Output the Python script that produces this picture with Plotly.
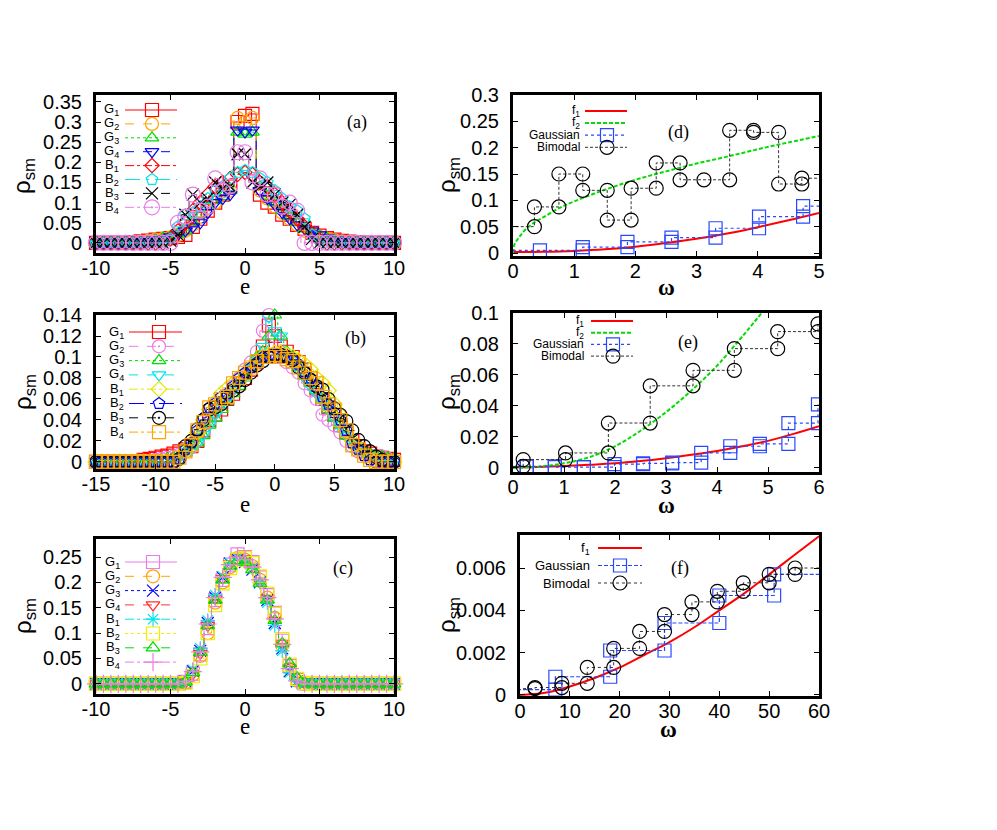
import plotly.graph_objects as go

# the page keeps the browser's 8px body margin, so the figure is drawn
# inside it and every pixel position below is given in page pixels
OFF = 8
W, H = 997 - 2 * OFF, 830 - 2 * OFF

# ---------------- panel (a) ----------------
e_a = [-10.0, -9.5, -9.0, -8.5, -8.0, -7.5, -7.0, -6.5, -6.0, -5.5,
       -5.0, -4.5, -4.0, -3.5, -3.0, -2.5, -2.0, -1.5, -1.0, -0.5,
       0.0, 0.5, 1.0, 1.5, 2.0, 2.5, 3.0, 3.5, 4.0, 4.5,
       5.0, 5.5, 6.0, 6.5, 7.0, 7.5, 8.0, 8.5, 9.0, 9.5,
       10.0]
a_G1 = [0, 0, 0, 0, 0, 0.002, 0.004, 0.006, 0.008, 0.01,
        0.012, 0.015, 0.02, 0.04, 0.06, 0.08, 0.1, 0.12, 0.14, 0.3,
        0.315, 0.32, 0.12, 0.1, 0.09, 0.07, 0.06, 0.045, 0.035, 0.025,
        0.018, 0.012, 0.008, 0.005, 0.003, 0.002, 0, 0, 0, 0,
        0]
a_G2 = [0, 0, 0, 0, 0, 0.002, 0.003, 0.005, 0.008, 0.01,
        0.014, 0.02, 0.03, 0.045, 0.065, 0.085, 0.1, 0.12, 0.13, 0.31,
        0.3, 0.31, 0.13, 0.11, 0.09, 0.075, 0.06, 0.045, 0.03, 0.022,
        0.015, 0.01, 0.007, 0.004, 0.003, 0.002, 0, 0, 0, 0,
        0]
a_G3 = [0, 0, 0, 0, 0, 0.001, 0.003, 0.005, 0.008, 0.012,
        0.016, 0.022, 0.03, 0.05, 0.07, 0.09, 0.105, 0.115, 0.13, 0.275,
        0.27, 0.275, 0.14, 0.115, 0.1, 0.08, 0.065, 0.05, 0.035, 0.025,
        0.018, 0.012, 0.008, 0.005, 0.003, 0.001, 0, 0, 0, 0,
        0]
a_G4 = [0, 0, 0, 0, 0, 0.001, 0.002, 0.004, 0.007, 0.01,
        0.015, 0.02, 0.03, 0.04, 0.05, 0.075, 0.1, 0.11, 0.12, 0.28,
        0.275, 0.28, 0.13, 0.11, 0.095, 0.075, 0.06, 0.045, 0.035, 0.03,
        0.02, 0.012, 0.007, 0.004, 0.002, 0.001, 0, 0, 0, 0,
        0]
a_B1 = [0, 0, 0, 0, 0, 0, 0, 0, 0, 0,
        0.01, 0.03, 0.05, 0.08, 0.1, 0.12, 0.14, 0.15, 0.16, 0.17,
        0.175, 0.17, 0.15, 0.14, 0.12, 0.1, 0.08, 0.06, 0.04, 0.02,
        0.008, 0, 0, 0, 0, 0, 0, 0, 0, 0,
        0]
a_B2 = [0, 0, 0, 0, 0, 0, 0, 0, 0, 0,
        0.01, 0.04, 0.07, 0.075, 0.09, 0.11, 0.13, 0.14, 0.16, 0.175,
        0.18, 0.175, 0.16, 0.15, 0.13, 0.11, 0.09, 0.08, 0.06, 0.02,
        0.005, 0, 0, 0, 0, 0, 0, 0, 0, 0,
        0]
a_B3 = [0, 0, 0, 0, 0, 0, 0, 0, 0, 0,
        0.005, 0.02, 0.07, 0.12, 0.1, 0.11, 0.15, 0.135, 0.14, 0.22,
        0.22, 0.15, 0.14, 0.15, 0.12, 0.1, 0.095, 0.07, 0.04, 0.01,
        0, 0, 0, 0, 0, 0, 0, 0, 0, 0,
        0]
a_B4 = [0, 0, 0, 0, 0, 0, 0, 0, 0, 0,
        0, 0.05, 0.065, 0.12, 0.08, 0.09, 0.16, 0.13, 0.14, 0.225,
        0.225, 0.15, 0.16, 0.12, 0.12, 0.09, 0.1, 0.08, 0, 0,
        0, 0, 0, 0, 0, 0, 0, 0, 0, 0,
        0]

# ---------------- panel (b) ----------------
e_b = [-15.0, -14.5, -14.0, -13.5, -13.0, -12.5, -12.0, -11.5, -11.0, -10.5,
       -10.0, -9.5, -9.0, -8.5, -8.0, -7.5, -7.0, -6.5, -6.0, -5.5,
       -5.0, -4.5, -4.0, -3.5, -3.0, -2.5, -2.0, -1.5, -1.0, -0.5,
       0.0, 0.5, 1.0, 1.5, 2.0, 2.5, 3.0, 3.5, 4.0, 4.5,
       5.0, 5.5, 6.0, 6.5, 7.0, 7.5, 8.0, 8.5, 9.0, 9.5,
       10.0]
b_G1 = [0, 0, 0, 0, 0, 0, 0, 0, 0.002, 0.003,
        0.004, 0.005, 0.006, 0.008, 0.01, 0.012, 0.015, 0.02, 0.03, 0.04,
        0.045, 0.05, 0.06, 0.065, 0.075, 0.08, 0.088, 0.095, 0.11, 0.13,
        0.12, 0.11, 0.105, 0.1, 0.095, 0.088, 0.08, 0.07, 0.06, 0.052,
        0.045, 0.035, 0.028, 0.02, 0.015, 0.01, 0.008, 0.005, 0.004, 0.003,
        0.002]
b_G2 = [0, 0, 0, 0, 0, 0, 0, 0, 0, 0.001,
        0.002, 0.003, 0.004, 0.005, 0.007, 0.01, 0.014, 0.02, 0.028, 0.038,
        0.048, 0.055, 0.065, 0.072, 0.08, 0.088, 0.095, 0.105, 0.125, 0.14,
        0.12, 0.1, 0.095, 0.09, 0.085, 0.075, 0.068, 0.06, 0.045, 0.04,
        0.035, 0.028, 0.02, 0.015, 0.01, 0.008, 0.006, 0.005, 0.005, 0.003,
        0.001]
b_G3 = [0, 0, 0, 0, 0, 0, 0, 0, 0, 0,
        0.001, 0.002, 0.003, 0.004, 0.006, 0.01, 0.015, 0.018, 0.025, 0.035,
        0.042, 0.05, 0.058, 0.065, 0.072, 0.08, 0.09, 0.1, 0.105, 0.12,
        0.14, 0.12, 0.105, 0.1, 0.09, 0.082, 0.075, 0.068, 0.06, 0.05,
        0.042, 0.035, 0.025, 0.02, 0.015, 0.01, 0.008, 0.006, 0.005, 0.004,
        0.003]
b_G4 = [0, 0, 0, 0, 0, 0, 0, 0, 0, 0,
        0, 0.001, 0.002, 0.003, 0.005, 0.008, 0.012, 0.018, 0.026, 0.035,
        0.045, 0.052, 0.06, 0.068, 0.075, 0.082, 0.09, 0.098, 0.11, 0.138,
        0.125, 0.12, 0.1, 0.095, 0.088, 0.08, 0.072, 0.065, 0.058, 0.05,
        0.042, 0.033, 0.025, 0.018, 0.012, 0.008, 0.006, 0.004, 0.003, 0.002,
        0.001]
b_B1 = [0, 0, 0, 0, 0, 0, 0, 0, 0, 0,
        0, 0, 0, 0, 0.004, 0.01, 0.018, 0.028, 0.04, 0.05,
        0.057, 0.065, 0.07, 0.075, 0.08, 0.085, 0.09, 0.095, 0.1, 0.102,
        0.104, 0.104, 0.102, 0.1, 0.097, 0.093, 0.088, 0.08, 0.075, 0.068,
        0.055, 0.045, 0.03, 0.02, 0.012, 0.006, 0.003, 0.001, 0, 0,
        0]
b_B2 = [0, 0, 0, 0, 0, 0, 0, 0, 0, 0,
        0, 0, 0, 0, 0.003, 0.012, 0.018, 0.03, 0.042, 0.052,
        0.056, 0.062, 0.065, 0.072, 0.08, 0.085, 0.09, 0.095, 0.1, 0.101,
        0.102, 0.1, 0.1, 0.097, 0.093, 0.086, 0.08, 0.072, 0.062, 0.055,
        0.047, 0.04, 0.03, 0.018, 0.012, 0.006, 0.002, 0, 0, 0,
        0]
b_B3 = [0, 0, 0, 0, 0, 0, 0, 0, 0, 0,
        0, 0, 0, 0, 0.003, 0.015, 0.02, 0.031, 0.04, 0.05,
        0.052, 0.055, 0.061, 0.068, 0.072, 0.078, 0.085, 0.092, 0.096, 0.1,
        0.102, 0.102, 0.1, 0.097, 0.09, 0.085, 0.078, 0.072, 0.069, 0.06,
        0.051, 0.045, 0.039, 0.03, 0.021, 0.015, 0.01, 0.005, 0.002, 0,
        0]
b_B4 = [0, 0, 0, 0, 0, 0, 0, 0, 0, 0,
        0, 0, 0, 0, 0.004, 0.01, 0.016, 0.03, 0.038, 0.052,
        0.055, 0.06, 0.062, 0.075, 0.08, 0.085, 0.09, 0.096, 0.1, 0.1,
        0.102, 0.1, 0.098, 0.096, 0.09, 0.085, 0.08, 0.075, 0.062, 0.055,
        0.05, 0.04, 0.03, 0.016, 0.012, 0.006, 0.002, 0, 0, 0,
        0]

# ---------------- panel (c) ----------------
e_c = e_a
c_G1 = [0, 0, 0, 0, 0, 0, 0, 0, 0, 0,
        0, 0, 0.004, 0.02, 0.058, 0.11, 0.165, 0.205, 0.235, 0.255,
        0.25, 0.24, 0.21, 0.175, 0.14, 0.085, 0.035, 0.008, 0.001, 0,
        0, 0, 0, 0, 0, 0, 0, 0, 0, 0,
        0]
c_G2 = [0, 0, 0, 0, 0, 0, 0, 0, 0, 0,
        0, 0, 0.003, 0.018, 0.055, 0.1, 0.16, 0.2, 0.23, 0.248,
        0.245, 0.232, 0.205, 0.17, 0.13, 0.075, 0.03, 0.006, 0, 0,
        0, 0, 0, 0, 0, 0, 0, 0, 0, 0,
        0]
c_G3 = [0, 0, 0, 0, 0, 0, 0, 0, 0, 0,
        0, 0, 0.005, 0.025, 0.065, 0.12, 0.17, 0.21, 0.237, 0.245,
        0.24, 0.225, 0.2, 0.165, 0.12, 0.07, 0.025, 0.005, 0, 0,
        0, 0, 0, 0, 0, 0, 0, 0, 0, 0,
        0]
c_G4 = [0, 0, 0, 0, 0, 0, 0, 0, 0, 0,
        0, 0, 0.003, 0.02, 0.06, 0.115, 0.168, 0.208, 0.236, 0.25,
        0.246, 0.23, 0.2, 0.168, 0.125, 0.08, 0.032, 0.007, 0.001, 0,
        0, 0, 0, 0, 0, 0, 0, 0, 0, 0,
        0]
c_B1 = [0, 0, 0, 0, 0, 0, 0, 0, 0, 0,
        0, 0, 0.006, 0.028, 0.07, 0.125, 0.175, 0.212, 0.238, 0.248,
        0.242, 0.228, 0.2, 0.16, 0.115, 0.065, 0.022, 0.004, 0, 0,
        0, 0, 0, 0, 0, 0, 0, 0, 0, 0,
        0]
c_B2 = [0, 0, 0, 0, 0, 0, 0, 0, 0, 0,
        0, 0, 0.002, 0.015, 0.05, 0.1, 0.155, 0.198, 0.228, 0.245,
        0.248, 0.238, 0.212, 0.178, 0.138, 0.088, 0.038, 0.01, 0.002, 0,
        0, 0, 0, 0, 0, 0, 0, 0, 0, 0,
        0]
c_B3 = [0, 0, 0, 0, 0, 0, 0, 0, 0, 0,
        0, 0, 0.004, 0.022, 0.062, 0.115, 0.165, 0.205, 0.232, 0.243,
        0.24, 0.225, 0.198, 0.165, 0.125, 0.08, 0.04, 0.012, 0.002, 0,
        0, 0, 0, 0, 0, 0, 0, 0, 0, 0,
        0]
c_B4 = [0, 0, 0, 0, 0, 0, 0, 0, 0, 0,
        0, 0, 0.005, 0.024, 0.063, 0.118, 0.17, 0.21, 0.235, 0.25,
        0.245, 0.23, 0.205, 0.17, 0.128, 0.078, 0.03, 0.006, 0.001, 0,
        0, 0, 0, 0, 0, 0, 0, 0, 0, 0,
        0]

# ---------------- panel (d) ----------------
d_f1_w = [0, 0.5, 1, 1.5, 2, 2.5, 3, 3.5, 4, 4.5, 5]
d_f1 = [0.002, 0.0025, 0.004, 0.007, 0.012, 0.019, 0.027, 0.037, 0.049, 0.062, 0.076]
d_f2_w = [0, 0.02, 0.1, 0.2, 0.35, 0.5, 0.75, 1, 1.5, 2, 2.5, 3, 3.5, 4, 4.5, 5]
d_f2 = [0.0, 0.015, 0.03, 0.044, 0.058, 0.068, 0.085, 0.098, 0.12, 0.139,
        0.155, 0.17, 0.183, 0.197, 0.21, 0.222]
d_gau_w = [-0.2, 0.44, 1.14, 1.14, 1.87, 1.87, 2.59, 2.59, 3.31, 3.31,
           4.02, 4.02, 4.74, 4.74, 5.3]
d_gau = [0.005, 0.005, 0.005, 0.011, 0.011, 0.021, 0.021, 0.029, 0.029, 0.047,
         0.047, 0.069, 0.069, 0.089, 0.089]
d_bim_w = [-0.2, 0.35, 0.35, 0.75, 0.75, 1.14, 1.14, 1.54, 1.54, 1.93,
           1.93, 2.34, 2.34, 2.73, 2.73, 3.12, 3.54, 3.54, 3.93, 3.93,
           4.34, 4.34, 4.72, 4.72, 5.3]
d_bim = [0.05, 0.05, 0.0875, 0.0875, 0.15, 0.15, 0.119, 0.119, 0.0625, 0.0625,
         0.123, 0.123, 0.171, 0.171, 0.139, 0.139, 0.139, 0.233, 0.233, 0.229,
         0.229, 0.131, 0.131, 0.142, 0.142]

# ---------------- panel (e) ----------------
e_f1_w = [0, 0.5, 1, 1.5, 2, 2.5, 3, 3.5, 4, 4.5, 5, 5.5, 6]
e_f1 = [0.0005, 0.0007, 0.0012, 0.002, 0.003, 0.0045, 0.0063, 0.0085, 0.011,
        0.014, 0.0175, 0.022, 0.027]
e_f2_w = [0, 0.5, 1, 1.5, 2, 2.5, 3, 3.5, 4, 4.5, 5]
e_f2 = [0.0, 0.0008, 0.003, 0.007, 0.014, 0.024, 0.036, 0.05, 0.066, 0.085, 0.105]
e_gau_w = [-0.2, 0.27, 0.27, 0.82, 0.82, 1.39, 1.39, 1.99, 1.99, 2.55, 2.55,
           3.12, 3.12, 3.69, 3.69, 4.26, 4.26, 4.84, 4.84, 5.4, 5.4, 5.98, 5.98]
e_gau = [0.001, 0.001, 0.001, 0.001, 0.0005, 0.0005, 0.0005, 0.0005, 0.0025,
         0.0025, 0.003, 0.003, 0.0035, 0.0035, 0.0097, 0.0097, 0.014, 0.014,
         0.0155, 0.0155, 0.029, 0.029, 0.041]
e_bim_w = [-0.2, 0.2, 0.2, 1.03, 1.03, 1.87, 1.87, 2.69, 2.69, 3.53, 3.53,
           4.34, 4.34, 5.19, 5.19, 5.98, 5.98]
e_bim = [0.001, 0.001, 0.0054, 0.0054, 0.0097, 0.0097, 0.029, 0.029, 0.053,
         0.053, 0.063, 0.063, 0.077, 0.077, 0.088, 0.088, 0.093]

# ---------------- panel (f) ----------------
f_f1_w = [0, 5, 10, 15, 20, 25, 30, 35, 40, 45, 50, 55, 60]
f_f1 = [0.0, 0.0001, 0.0004, 0.0008, 0.0013, 0.0019, 0.0025, 0.0032, 0.004,
        0.0048, 0.0057, 0.0066, 0.0075]
f_gau_w = [-3, 7.1, 7.1, 18.1, 18.1, 29.0, 29.0, 40.0, 40.0, 51.0, 51.0, 62]
f_gau = [0.00025, 0.00025, 0.00086, 0.00086, 0.0021, 0.0021, 0.0034, 0.0034,
         0.0047, 0.0047, 0.0057, 0.0057]
f_bim_w = [-3, 3.0, 3.0, 8.4, 8.4, 13.5, 13.5, 18.8, 18.8, 24.0, 24.0, 29.0,
           29.0, 34.5, 34.5, 39.6, 39.6, 44.8, 44.8, 50.0, 50.0, 55.2, 55.2, 62]
f_bim = [0.0003, 0.0003, 0.00035, 0.00035, 0.00055, 0.00055, 0.0013, 0.0013,
         0.0022, 0.0022, 0.003, 0.003, 0.0038, 0.0038, 0.0044, 0.0044, 0.0049,
         0.0049, 0.0053, 0.0053, 0.0057, 0.0057, 0.006, 0.006]

G = ["G<sub>1</sub>", "G<sub>2</sub>", "G<sub>3</sub>", "G<sub>4</sub>"]
B = ["B<sub>1</sub>", "B<sub>2</sub>", "B<sub>3</sub>", "B<sub>4</sub>"]

# label, colour, dash, symbol, size
sty_a = [
    (G[0], "#ff0000", "solid", "square-open", 13),
    (G[1], "#ffa500", "dash", "circle-open", 13),
    (G[2], "#00dd00", "dot", "triangle-up-open", 12),
    (G[3], "#0000ff", "dash", "triangle-down-open", 12),
    (B[0], "#ff0000", "dashdot", "diamond-open", 11),
    (B[1], "#00e5ee", "longdashdot", "pentagon-open", 12),
    (B[2], "#000000", "dash", "x-thin-open", 12),
    (B[3], "#e87ee8", "dashdot", "circle-open-dot", 15),
]
sty_b = [
    (G[0], "#ff0000", "solid", "square-open", 13),
    (G[1], "#e87ee8", "dash", "circle-open-dot", 13),
    (G[2], "#00dd00", "dot", "triangle-up-open", 12),
    (G[3], "#00e5ee", "dash", "triangle-down-open", 12),
    (B[0], "#e6e600", "dashdot", "diamond-open", 12),
    (B[1], "#0000ff", "longdashdot", "pentagon-open", 12),
    (B[2], "#000000", "dash", "circle-open-dot", 13),
    (B[3], "#ffa500", "dashdot", "square-open", 13),
]
sty_c = [
    (G[0], "#e87ee8", "solid", "square-open", 13),
    (G[1], "#ffa500", "dash", "circle-open", 13),
    (G[2], "#0000ff", "dot", "x-thin-open", 12),
    (G[3], "#ff3030", "dash", "triangle-down-open", 12),
    (B[0], "#00e5ee", "dashdot", "asterisk-open", 12),
    (B[1], "#eeee00", "dot", "square-open", 13),
    (B[2], "#00dd00", "dash", "triangle-up-open", 12),
    (B[3], "#e87ee8", "dashdot", "cross-thin-open", 13),
]

fig = go.Figure()


def mk_marker(color, symbol, size):
    return dict(symbol=symbol, size=size, color=color,
                line=dict(color=color, width=1.2))


def add_hist(n, x, ys, styles):
    for y, (lab, col, dash, sym, sz) in zip(ys, styles):
        fig.add_trace(go.Scatter(
            x=x, y=y, mode="lines+markers", name=lab,
            line=dict(color=col, dash=dash, width=1, shape="hvh"),
            marker=mk_marker(col, sym, sz),
            cliponaxis=False, showlegend=False,
            xaxis="x%d" % n, yaxis="y%d" % n,
        ))


add_hist(1, e_a, [a_G1, a_G2, a_G3, a_G4, a_B1, a_B2, a_B3, a_B4], sty_a)
add_hist(2, e_b, [b_G1, b_G2, b_G3, b_G4, b_B1, b_B2, b_B3, b_B4], sty_b)
add_hist(3, e_c, [c_G1, c_G2, c_G3, c_G4, c_B1, c_B2, c_B3, c_B4], sty_c)

F1 = dict(color="#ff0000", width=2, shape="spline")
F2 = dict(color="#00dd00", width=2, dash="4px,2px", shape="spline")
GAU_C = "#2848ff"


def add_fit(n, fits, gau, bim, gdash, bdash):
    for (x, y, ln) in fits:
        fig.add_trace(go.Scatter(x=x, y=y, mode="lines", line=ln,
                                 showlegend=False,
                                 xaxis="x%d" % n, yaxis="y%d" % n))
    fig.add_trace(go.Scatter(
        x=gau[0], y=gau[1], mode="lines+markers",
        line=dict(color=GAU_C, width=1.2, dash=gdash),
        marker=mk_marker(GAU_C, "square-open", 13),
        showlegend=False, xaxis="x%d" % n, yaxis="y%d" % n))
    fig.add_trace(go.Scatter(
        x=bim[0], y=bim[1], mode="lines+markers",
        line=dict(color="#333333", width=1, dash=bdash),
        marker=mk_marker("#000000", "circle-open", 14),
        showlegend=False, xaxis="x%d" % n, yaxis="y%d" % n))


add_fit(4, [(d_f1_w, d_f1, F1), (d_f2_w, d_f2, F2)],
        (d_gau_w, d_gau), (d_bim_w, d_bim), "dot", "3px,2px")
add_fit(5, [(e_f1_w, e_f1, F1), (e_f2_w, e_f2, F2)],
        (e_gau_w, e_gau), (e_bim_w, e_bim), "dot", "3px,2px")
add_fit(6, [(f_f1_w, f_f1, F1)],
        (f_gau_w, f_gau), (f_bim_w, f_bim), "4px,2px", "dot")


# page pixel -> paper fraction
def px(x):
    return (x - OFF) / W


def py(y):
    return 1 - (y - OFF) / H


# ---------------- axes ----------------
boxes = {
    1: (96, 95, 394, 253),
    2: (96, 315, 394, 469),
    3: (96, 539, 394, 694),
    4: (513, 95, 819, 256),
    5: (513, 313, 819, 472),
    6: (520, 535, 819, 696),
}
xranges = {1: [-10, 10], 2: [-15, 10], 3: [-10, 10],
           4: [0, 5], 5: [0, 6], 6: [0, 60]}
yranges = {1: [-0.025, 0.367], 2: [-0.0067, 0.14], 3: [-0.02, 0.2855],
           4: [-0.0057, 0.3], 5: [-0.0026, 0.1], 6: [-0.00005, 0.00756]}
xticks = {1: [-10, -5, 0, 5, 10], 2: [-15, -10, -5, 0, 5, 10],
          3: [-10, -5, 0, 5, 10], 4: [0, 1, 2, 3, 4, 5],
          5: [0, 1, 2, 3, 4, 5, 6], 6: [0, 10, 20, 30, 40, 50, 60]}
yticks = {1: [0, 0.05, 0.1, 0.15, 0.2, 0.25, 0.3, 0.35],
          2: [0, 0.02, 0.04, 0.06, 0.08, 0.1, 0.12, 0.14],
          3: [0, 0.05, 0.1, 0.15, 0.2, 0.25],
          4: [0, 0.05, 0.1, 0.15, 0.2, 0.25, 0.3],
          5: [0, 0.02, 0.04, 0.06, 0.08, 0.1],
          6: [0, 0.002, 0.004, 0.006]}

tickfont = dict(family="Liberation Sans, Arial, sans-serif", size=20, color="black")
common = dict(showline=True, linecolor="black", linewidth=3, mirror="ticks",
              ticks="inside", ticklen=5, tickwidth=1, tickcolor="black",
              showgrid=False, zeroline=False, tickfont=tickfont, fixedrange=True,
              automargin=False)

lay = {}
for n, (x0, y0, x1, y1) in boxes.items():
    sfx = "" if n == 1 else str(n)
    lay["xaxis" + sfx] = dict(
        common, domain=[px(x0), px(x1)], range=xranges[n], anchor="y%d" % n,
        tickvals=xticks[n], ticktext=[("%g" % v) for v in xticks[n]],
        ticklabelstandoff=-5)
    lay["yaxis" + sfx] = dict(
        common, domain=[py(y1), py(y0)], range=yranges[n], anchor="x%d" % n,
        tickvals=yticks[n], ticktext=[("%g" % v) for v in yticks[n]],
        ticklabelstandoff=7)

# a pixel canvas on top, used only for the key samples
lay["xaxis7"] = dict(domain=[0, 1], range=[OFF, OFF + W], visible=False, anchor="y7",
                     fixedrange=True, automargin=False)
lay["yaxis7"] = dict(domain=[0, 1], range=[OFF + H, OFF], visible=False, anchor="x7",
                     fixedrange=True, automargin=False)

fig.update_layout(**lay)

# ---------------- keys ----------------
anns = []


def add_key(entries, xt, xl0, xl1, xm, ky0, dy, fsize):
    kfont = dict(family="Liberation Sans, Arial, sans-serif", size=fsize, color="black")
    for i, (lab, line, marker) in enumerate(entries):
        yy = ky0 + i * dy
        fig.add_trace(go.Scatter(x=[xl0, xl1], y=[yy, yy], mode="lines", line=line,
                                 showlegend=False, hoverinfo="skip",
                                 xaxis="x7", yaxis="y7"))
        if marker is not None:
            fig.add_trace(go.Scatter(x=[xm], y=[yy], mode="markers", marker=marker,
                                     showlegend=False, hoverinfo="skip",
                                     xaxis="x7", yaxis="y7"))
        anns.append(dict(x=px(xt), y=py(yy), xref="paper", yref="paper",
                         text=lab, showarrow=False, xanchor="right",
                         yanchor="middle", font=kfont))


def hist_entries(styles):
    return [(lab, dict(color=col, dash=dash, width=1), mk_marker(col, sym, sz))
            for (lab, col, dash, sym, sz) in styles]


add_key(hist_entries(sty_a), 121, 125, 177, 152, 110, 13.9, 13)
add_key(hist_entries(sty_b), 126, 129, 182, 159, 332, 14.3, 13)
add_key(hist_entries(sty_c), 122, 125, 177, 153, 562, 14.3, 13)

f1_key = ("f<sub>1</sub>", dict(color="#ff0000", width=2), None)
f2_key = ("f<sub>2</sub>", dict(color="#00dd00", width=2, dash="4px,2px"), None)


def fit_entries(gdash, bdash, with_f2=True):
    out = [f1_key]
    if with_f2:
        out.append(f2_key)
    out.append(("Gaussian", dict(color=GAU_C, width=1.2, dash=gdash),
                mk_marker(GAU_C, "square-open", 13)))
    out.append(("Bimodal", dict(color="#333333", width=1, dash=bdash),
                mk_marker("#000000", "circle-open", 14)))
    return out


add_key(fit_entries("dot", "3px,2px"), 582, 585, 627, 607, 111, 12.1, 12)
add_key(fit_entries("dot", "3px,2px"), 586, 591, 633, 613, 321, 11.7, 12)
add_key(fit_entries("4px,2px", "dot", with_f2=False), 592, 598, 642, 620, 548, 17.5, 13)

# ---------------- titles and panel tags ----------------
serif = "Liberation Serif, Times New Roman, serif"
ylab = [(24, 176), (24, 392), (24, 616), (448, 175), (448, 392), (448, 615)]
for (xp, yp) in ylab:
    anns.append(dict(x=px(xp), y=py(yp), xref="paper", yref="paper",
                     text="ρ<sub>sm</sub>", textangle=-90, showarrow=False,
                     xanchor="center", yanchor="middle",
                     font=dict(family="Liberation Sans, Arial, sans-serif", size=24, color="black")))

xlab = [("e", 245, 286), ("e", 245, 504), ("e", 245, 726),
        ("<b>ω</b>", 666, 287), ("<b>ω</b>", 666, 505), ("<b>ω</b>", 668, 729)]
for (t, xp, yp) in xlab:
    anns.append(dict(x=px(xp), y=py(yp), xref="paper", yref="paper",
                     text=t, showarrow=False, xanchor="center", yanchor="middle",
                     font=dict(family=serif, size=23, color="black")))

tags = [("(a)", 357, 122), ("(b)", 355, 338), ("(c)", 343, 568),
        ("(d)", 678, 133), ("(e)", 688, 343), ("(f)", 680, 568)]
for (t, xp, yp) in tags:
    anns.append(dict(x=px(xp), y=py(yp), xref="paper", yref="paper",
                     text=t, showarrow=False, xanchor="center", yanchor="middle",
                     font=dict(family=serif, size=18, color="black")))

fig.update_layout(
    width=W, height=H,
    margin=dict(l=0, r=0, t=0, b=0),
    paper_bgcolor="white",
    plot_bgcolor="rgba(0,0,0,0)",
    showlegend=False,
    annotations=anns,
)

fig.write_html("out.html")
